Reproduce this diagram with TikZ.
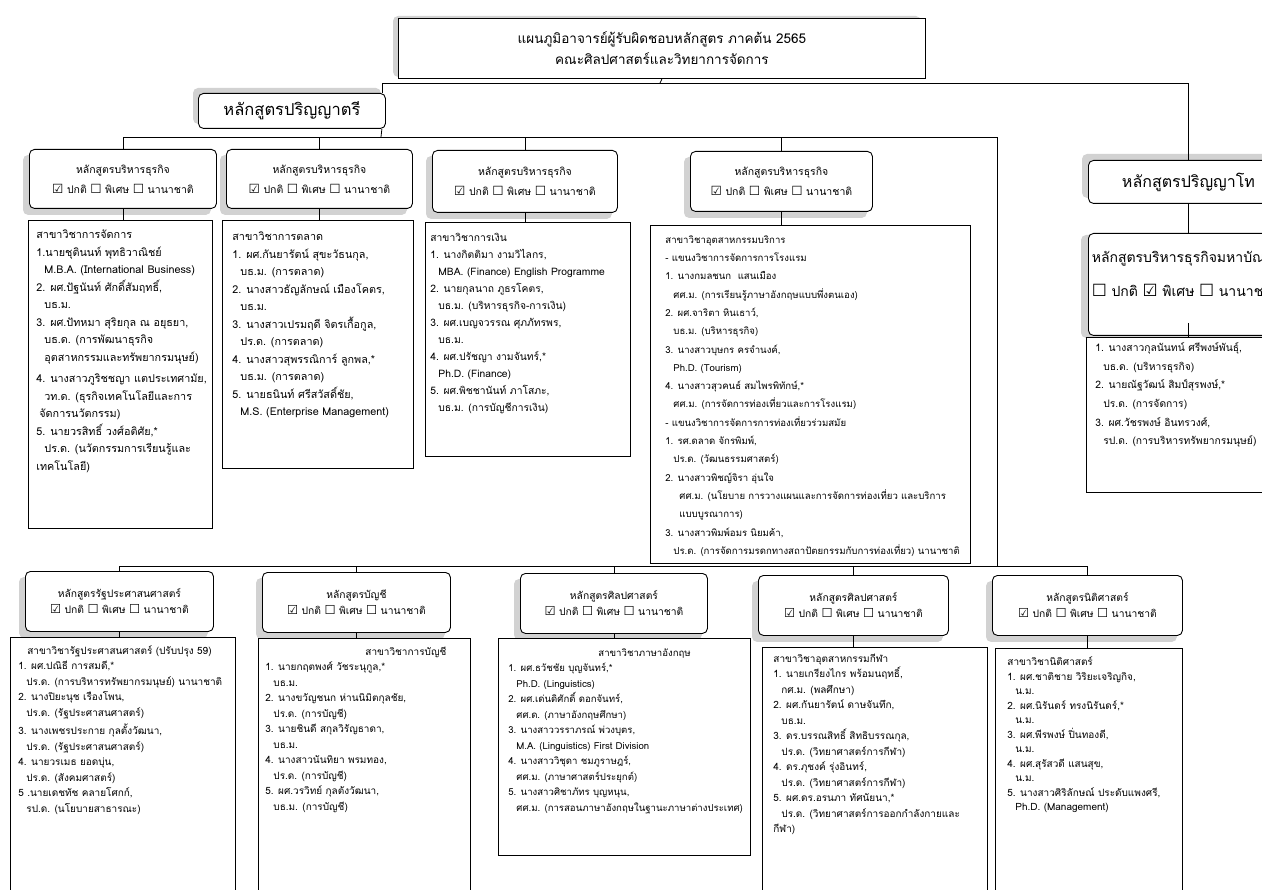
\documentclass[tikz,border=0pt]{standalone}
\usepackage{fontspec}
\setmainfont{Loma}[Script=Thai]
\newfontfamily\symfont{DejaVu Sans}
\usepackage{tikz}
\usetikzlibrary{positioning,backgrounds}

\newcommand{\cbOn}{\scalebox{1.2}{\symfont ☑}}
\newcommand{\cbOff}{\scalebox{1.2}{\symfont ☐}}
\newcommand{\tabin}{\hspace*{8pt}}

\tikzset{
  ttlbox/.style={draw, line width=0.9pt, fill=white, anchor=north west, align=center,
    minimum width=527pt, minimum height=60pt, font=\fontsize{13.5}{21}\selectfont},
  lvlbox/.style 2 args={draw, rounded corners=5pt, line width=0.9pt, fill=white, anchor=north west,
    minimum width=#1pt, minimum height=#2pt, font=\fontsize{16.5}{18}\selectfont},
  hdrbox/.style 2 args={draw, rounded corners=5pt, line width=0.9pt, fill=white, anchor=north west,
    align=center, minimum width=#1pt, minimum height=#2pt, font=\fontsize{10.5}{20}\selectfont},
  hdrboxb/.style 2 args={hdrbox={#1}{#2}, font=\fontsize{10.3}{16}\selectfont},
  bodybox/.style 2 args={draw, line width=1.1pt, fill=white, anchor=north west,
    minimum width=#1pt, minimum height=#2pt, inner sep=0pt},
  txtlist/.style={align=left, inner sep=0pt, font=\fontsize{10.8}{17.5}\selectfont},
  txtlistb/.style={txtlist, font=\fontsize{10}{15.5}\selectfont},
  shade/.style={fill=gray!35, rounded corners=5pt},
}

\begin{document}
\begin{tikzpicture}[x=1pt, y=-1pt, line width=0.8pt]
  \path[use as bounding box, clip] (0,0) rectangle (1262,890);

  % top levels
  \node[ttlbox] (t_0) at (398,18) {แผนภูมิอาจารย์ผู้รับผิดชอบหลักสูตร ภาคต้น 2565\\คณะศิลปศาสตร์และวิทยาการจัดการ};
  \node[lvlbox={187}{35}] (p_1) at (198,93) {หลักสูตรปริญญาตรี};
  \node[lvlbox={200}{43}, font=\fontsize{16}{18}\selectfont] (p_2) at (1088,160) {หลักสูตรปริญญาโท};

  % first row
  \node[hdrbox={187}{59}] (h_1) at (29,149) {หลักสูตรบริหารธุรกิจ\\\cbOn\ ปกติ \cbOff\ พิเศษ \cbOff\ นานาชาติ};
  \node[hdrbox={186}{59}] (h_2) at (226,149) {หลักสูตรบริหารธุรกิจ\\\cbOn\ ปกติ \cbOff\ พิเศษ \cbOff\ นานาชาติ};
  \node[hdrbox={185}{62}] (h_3) at (432,150) {หลักสูตรบริหารธุรกิจ\\\cbOn\ ปกติ \cbOff\ พิเศษ \cbOff\ นานาชาติ};
  \node[hdrbox={182}{60}] (h_4) at (690,151) {หลักสูตรบริหารธุรกิจ\\\cbOn\ ปกติ \cbOff\ พิเศษ \cbOff\ นานาชาติ};

  \node[bodybox={184}{308}] (b_1) at (28,220) {};
  \node[bodybox={191}{248}] (b_2) at (222,220) {};
  \node[bodybox={205}{234}] (b_3) at (425,222) {};
  \node[bodybox={320}{338}] (b_4) at (650,225) {};

  \node[txtlist, below right=6pt and 8pt of b_1.north west] (l_1) {\strut สาขาวิชาการจัดการ\\
    1.นายชุตินนท์ พุทธิวาณิชย์\\
    \tabin M.B.A. (International Business)\\
    2. ผศ.ปัฐนันท์ ศักดิ์สัมฤทธิ์,\\
    \tabin บธ.ม.\\
    3. ผศ.ปัทหมา สุริยกุล ณ อยุธยา,\\
    \tabin บธ.ด. (การพัฒนาธุรกิจ\\
    \tabin อุตสาหกรรมและทรัพยากรมนุษย์)\\[4pt]
    4. นางสาวภูริชชญา แตประเทศามัย,\\
    \tabin วท.ด. (ธุรกิจเทคโนโลยีและการ\\
    \hspace*{3pt}จัดการนวัตกรรม)\\
    5. นายวรสิทธิ์ วงศ์อติศัย,*\\
    \tabin ปร.ด. (นวัตกรรมการเรียนรู้และ\\
    เทคโนโลยี)};
  \node[txtlist, below right=8pt and 10pt of b_2.north west] (l_2) {\strut สาขาวิชาการตลาด\\
    1. ผศ.กันยารัตน์ สุขะวัธนกุล,\\
    \tabin บธ.ม. (การตลาด)\\
    2. นางสาวธัญลักษณ์ เมืองโคตร,\\
    \tabin บธ.ม.\\
    3. นางสาวเปรมฤดี จิตรเกื้อกูล,\\
    \tabin ปร.ด. (การตลาด)\\
    4. นางสาวสุพรรณิการ์ ลูกพล,*\\
    \tabin บธ.ม. (การตลาด)\\
    5. นายธนินท์ ศรีสวัสดิ์ชัย,\\
    \tabin M.S. (Enterprise Management)};
  \node[txtlist, font=\fontsize{10.3}{17}\selectfont, below right=7pt and 5pt of b_3.north west] (l_3) {\strut สาขาวิชาการเงิน\\
    1. นางกิตติมา งามวิไลกร,\\
    \tabin MBA. (Finance) English Programme\\
    2. นายกุลนาถ ภูธรโคตร,\\
    \tabin บธ.ม. (บริหารธุรกิจ-การเงิน)\\
    3. ผศ.เบญจวรรณ ศุภภัทรพร,\\
    \tabin บธ.ม.\\
    4. ผศ.ปรัชญา งามจันทร์,*\\
    \tabin Ph.D. (Finance)\\
    5. ผศ.พิชชานันท์ ภาโสภะ,\\
    \tabin บธ.ม. (การบัญชีการเงิน)};
  \node[txtlist, font=\fontsize{9.6}{18.3}\selectfont, below right=5pt and 15pt of b_4.north west] (l_4) {\strut สาขาวิชาอุตสาหกรรมบริการ\\
    - แขนงวิชาการจัดการการโรงแรม\\
    1. นางกมลชนก\ \ แสนเมือง\\
    \tabin ศศ.ม. (การเรียนรู้ภาษาอังกฤษแบบพึ่งตนเอง)\\
    2. ผศ.จาริตา หินเธาว์,\\
    \tabin บธ.ม. (บริหารธุรกิจ)\\
    3. นางสาวบุษกร ครจำนงค์,\\
    \tabin Ph.D. (Tourism)\\
    4. นางสาวสุวคนธ์ สมไพรพิทักษ์,*\\
    \tabin ศศ.ม. (การจัดการท่องเที่ยวและการโรงแรม)\\
    - แขนงวิชาการจัดการการท่องเที่ยวร่วมสมัย\\
    1. รศ.ดลาด จักรพิมพ์,\\
    \tabin ปร.ด. (วัฒนธรรมศาสตร์)\\
    2. นางสาวพิชญ์จิรา อุ่นใจ\\
    \hspace*{14pt}ศศ.ม. (นโยบาย การวางแผนและการจัดการท่องเที่ยว และบริการ\\
    \hspace*{14pt}แบบบูรณาการ)\\
    3. นางสาวพิมพ์อมร นิยมค้า,\\
    \tabin ปร.ด. (การจัดการมรดกทางสถาปัตยกรรมกับการท่องเที่ยว) นานาชาติ};

  % master
  \node[hdrbox={266}{102}, align=left, text width=260pt, font=\fontsize{14}{34}\selectfont] (m_h) at (1088,233)
    {หลักสูตรบริหารธุรกิจมหาบัณฑิต\\\cbOff\ ปกติ \cbOn\ พิเศษ \cbOff\ นานาชาติ\\[-12pt]\mbox{}};
  \node[bodybox={260}{155}] (m_b) at (1086,337) {};
  \node[txtlist, font=\fontsize{10.3}{18.7}\selectfont, below right=1pt and 9pt of m_b.north west] (l_m) {\strut 1. นางสาวกุลนันทน์ ศรีพงษ์พันธุ์,\\
    \tabin บธ.ด. (บริหารธุรกิจ)\\
    2. นายณัฐวัฒน์ สิมป์สุรพงษ์,*\\
    \tabin ปร.ด. (การจัดการ)\\
    3. ผศ.วัชรพงษ์ อินทรวงศ์,\\
    \tabin รป.ด. (การบริหารทรัพยากรมนุษย์)};

  % second row
  \node[hdrboxb={188}{60}] (h_5) at (25,571) {หลักสูตรรัฐประศาสนศาสตร์\\\cbOn\ ปกติ \cbOff\ พิเศษ \cbOff\ นานาชาติ};
  \node[hdrboxb={188}{60}] (h_6) at (262,572) {หลักสูตรบัญชี\\\cbOn\ ปกติ \cbOff\ พิเศษ \cbOff\ นานาชาติ};
  \node[hdrboxb={187}{60}] (h_7) at (520,573) {หลักสูตรศิลปศาสตร์\\\cbOn\ ปกติ \cbOff\ พิเศษ \cbOff\ นานาชาติ};
  \node[hdrboxb={190}{60}] (h_8) at (758,575) {หลักสูตรศิลปศาสตร์\\\cbOn\ ปกติ \cbOff\ พิเศษ \cbOff\ นานาชาติ};
  \node[hdrboxb={190}{60}] (h_9) at (992,575) {หลักสูตรนิติศาสตร์\\\cbOn\ ปกติ \cbOff\ พิเศษ \cbOff\ นานาชาติ};

  \node[bodybox={225}{255}] (b_5) at (10,637) {};
  \node[bodybox={212}{255}] (b_6) at (258,638) {};
  \node[bodybox={252}{217}] (b_7) at (498,638) {};
  \node[bodybox={225}{245}] (b_8) at (762,647) {};
  \node[bodybox={187}{245}] (b_9) at (995,648) {};

  \node[txtlistb, below right=6pt and 8pt of b_5.north west] (l_5) {\strut\hspace*{9pt}สาขาวิชารัฐประศาสนศาสตร์ (ปรับปรุง 59)\\
    1. ผศ.ปณิธี การสมดี,*\\
    \tabin ปร.ด. (การบริหารทรัพยากรมนุษย์) นานาชาติ\\
    2. นางปิยะนุช เรืองโพน,\\
    \tabin ปร.ด. (รัฐประศาสนศาสตร์)\\[3pt]
    3. นางเพชรประกาย กุลตั้งวัฒนา,\\
    \tabin ปร.ด. (รัฐประศาสนศาสตร์)\\
    4. นายวรเมธ ยอดบุ่น,\\
    \tabin ปร.ด. (สังคมศาสตร์)\\
    5 .นายเดชทัช คลายโศกก์,\\
    \tabin รป.ด. (นโยบายสาธารณะ)};
  \node[txtlistb, below right=6pt and 7pt of b_6.north west] (l_6) {\strut\hspace*{100pt}สาขาวิชาการบัญชี\\
    1. นายกฤตพงศ์ วัชระนุกูล,*\\
    \tabin บธ.ม.\\
    2. นางขวัญชนก ห่านนิมิตกุลชัย,\\
    \tabin ปร.ด. (การบัญชี)\\
    3. นายชินดี สกุลวิรัญธาดา,\\
    \tabin บธ.ม.\\
    4. นางสาวนันทิยา พรมทอง,\\
    \tabin ปร.ด. (การบัญชี)\\
    5. ผศ.วรวิทย์ กุลตังวัฒนา,\\
    \tabin บธ.ม. (การบัญชี)};
  \node[txtlistb, font=\fontsize{9.6}{15.5}\selectfont, below right=7pt and 10pt of b_7.north west] (l_7) {\strut\hspace*{90pt}สาขาวิชาภาษาอังกฤษ\\
    1. ผศ.ธวัชชัย บุญจันทร์,*\\
    \tabin Ph.D. (Linguistics)\\
    2. ผศ.เด่นดิศักดิ์ ดอกจันทร์,\\
    \tabin ศศ.ด. (ภาษาอังกฤษศึกษา)\\
    3. นางสาววรราภรณ์ พ่วงบุตร,\\
    \tabin M.A. (Linguistics) First Division\\
    4. นางสาววิชุดา ชมภูราษฎร์,\\
    \tabin ศศ.ม. (ภาษาศาสตร์ประยุกต์)\\
    5. นางสาวศิชาภัทร บุญหนุน,\\
    \tabin ศศ.ม. (การสอนภาษาอังกฤษในฐานะภาษาต่างประเทศ)};
  \node[txtlistb, below right=4pt and 11pt of b_8.north west] (l_8) {\strut สาขาวิชาอุตสาหกรรมกีฬา\\
    1. นายเกรียงไกร พร้อมนฤทธิ์,\\
    \tabin กศ.ม. (พลศึกษา)\\
    2. ผศ.กันยารัตน์ ดาษจันทึก,\\
    \tabin บธ.ม.\\
    3. ดร.บรรณสิทธิ์ สิทธิบรรณกุล,\\
    \tabin ปร.ด. (วิทยาศาสตร์การกีฬา)\\
    4. ดร.ภุชงค์ รุ่งอินทร์,\\
    \tabin ปร.ด. (วิทยาศาสตร์การกีฬา)\\
    5. ผศ.ดร.อรนภา ทัศนัยนา,*\\
    \tabin ปร.ด. (วิทยาศาสตร์การออกกำลังกายและ\\
    กีฬา)};
  \node[txtlistb, font=\fontsize{10}{14.5}\selectfont, below right=7pt and 12pt of b_9.north west] (l_9) {\strut สาขาวิชานิติศาสตร์\\
    1. ผศ.ชาติชาย วิริยะเจริญกิจ,\\
    \tabin น.ม.\\
    2. ผศ.นิรันดร์ ทรงนิรันดร์,*\\
    \tabin น.ม.\\
    3. ผศ.พีรพงษ์ ปิ่นทองดี,\\
    \tabin น.ม.\\
    4. ผศ.สุรัสวดี แสนสุข,\\
    \tabin น.ม.\\
    5. นางสาวศิริลักษณ์ ประดับแพงศรี,\\
    \tabin Ph.D. (Management)};

  % grey shadows behind boxes
  \begin{scope}[on background layer]
    \foreach \n/\dx/\dy in {t_0/-5/2, p_1/-5/5, p_2/-6/6, m_h/-7/-2,
        h_1/-6/-6, h_2/-6/-6, h_3/-6/-6, h_4/-6/-6,
        h_5/-6/-6, h_6/-6/-6, h_7/-6/-6, h_8/-6/-6, h_9/-6/-6}
      \path[shade] ([shift={(\dx pt,\dy pt)}]\n.south west) rectangle ([shift={(\dx pt,\dy pt)}]\n.north east);
  \end{scope}

  % connectors
  \coordinate (bus_0) at (660,83);
  \coordinate (bus_1) at (381,137);
  \coordinate (bus_2) at (997,566);
  \draw (t_0.south) -- (bus_0);
  \draw (bus_0) -| ([xshift=-4pt]p_1.north east);
  \draw (bus_0) -| (p_2.north);
  \draw ([xshift=-4pt]p_1.south east) -- (bus_1);
  \draw (bus_1) -| (bus_2);
  \foreach \n in {1,2,3,4}
    \draw (bus_1) -| (h_\n.north);
  \foreach \n in {5,6,7,8,9}
    \draw (bus_2) -| (h_\n.north);
  \foreach \n in {1,2,3,4,5,6,7,8,9}
    \draw (h_\n.south) -- (h_\n.south |- b_\n.north);
  \draw (p_2.south) -- (p_2.south |- m_h.north);
  \draw ([yshift=13pt]p_2.south |- m_h.south) -- (p_2.south |- m_b.north);
\end{tikzpicture}
\end{document}
